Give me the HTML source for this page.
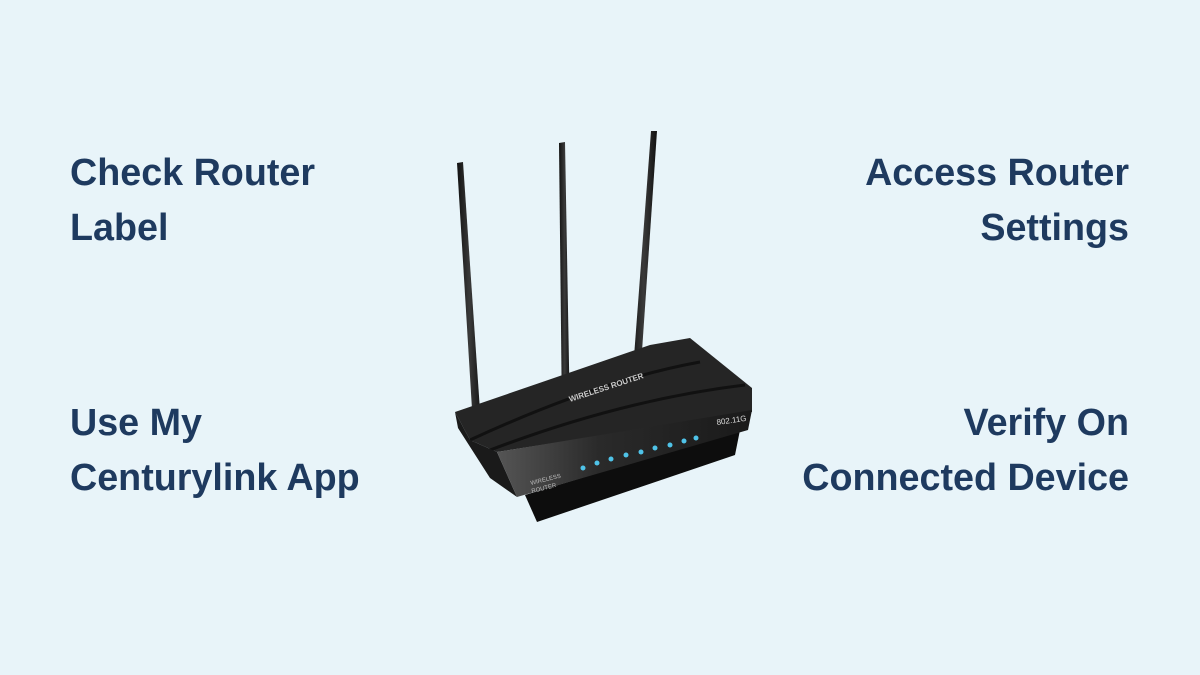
<!DOCTYPE html>
<html><head><style>
html,body{margin:0;padding:0}
body{width:1200px;height:675px;background:#e8f4f9;position:relative;overflow:hidden;font-family:"Liberation Sans",sans-serif}
.t{position:absolute;color:#1e3a5f;font-weight:bold;font-size:37.7px;line-height:55px;white-space:nowrap}
.l{left:70px}.r{right:71px;text-align:right}
</style></head><body>
<div class="t l" style="top:145px">Check Router<br>Label</div>
<div class="t r" style="top:145px">Access Router<br>Settings</div>
<div class="t l" style="top:395px">Use My<br>Centurylink App</div>
<div class="t r" style="top:395px">Verify On<br>Connected Device</div>
<svg width="1200" height="675" style="position:absolute;left:0;top:0">
<defs>
<linearGradient id="ant" x1="0" x2="1"><stop offset="0" stop-color="#111"/><stop offset=".5" stop-color="#3a3a3a"/><stop offset="1" stop-color="#111"/></linearGradient>
<linearGradient id="front" x1="0" y1="0" x2="1" y2="0"><stop offset="0" stop-color="#555"/><stop offset=".4" stop-color="#2a2a2a"/><stop offset="1" stop-color="#1a1a1a"/></linearGradient>
</defs>
<polygon points="457,163 463,162 482,440 474,442" fill="url(#ant)"/>
<polygon points="559,143 565,142 570,420 562,420" fill="url(#ant)"/>
<polygon points="651,131 657,131 638,410 630,410" fill="url(#ant)"/>
<polygon points="525,495 740,430 735,455 537,522" fill="#0d0d0d"/>
<polygon points="455,412 650,345 690,338 752,388 752,412 497,452 470,440" fill="#252525"/>
<path d="M470,440 Q600,380 700,362" stroke="#111" stroke-width="3" fill="none"/>
<path d="M485,452 Q620,400 745,385" stroke="#111" stroke-width="3" fill="none"/>
<polygon points="455,412 470,440 497,452 517,497 490,478 458,428" fill="#1a1a1a"/>
<polygon points="497,452 752,410 748,430 517,497" fill="url(#front)"/>
<text x="570" y="402" fill="#ccc" font-size="8" font-weight="bold" transform="rotate(-18 570 402)">WIRELESS ROUTER</text>
<text x="717" y="425" fill="#ddd" font-size="8" transform="rotate(-8 717 425)">802.11G</text>
<text x="531" y="485" fill="#bbb" font-size="6" transform="rotate(-14 531 485)">WIRELESS</text>
<text x="532" y="493" fill="#bbb" font-size="6" transform="rotate(-14 532 493)">ROUTER</text>
<g fill="#4fc3e8">
<circle cx="583" cy="468" r="2.5"/><circle cx="597" cy="463" r="2.5"/><circle cx="611" cy="459" r="2.5"/>
<circle cx="626" cy="455" r="2.5"/><circle cx="641" cy="452" r="2.5"/><circle cx="655" cy="448" r="2.5"/>
<circle cx="670" cy="445" r="2.5"/><circle cx="684" cy="441" r="2.5"/><circle cx="696" cy="438" r="2.5"/>
</g>
</svg>
</body></html>
